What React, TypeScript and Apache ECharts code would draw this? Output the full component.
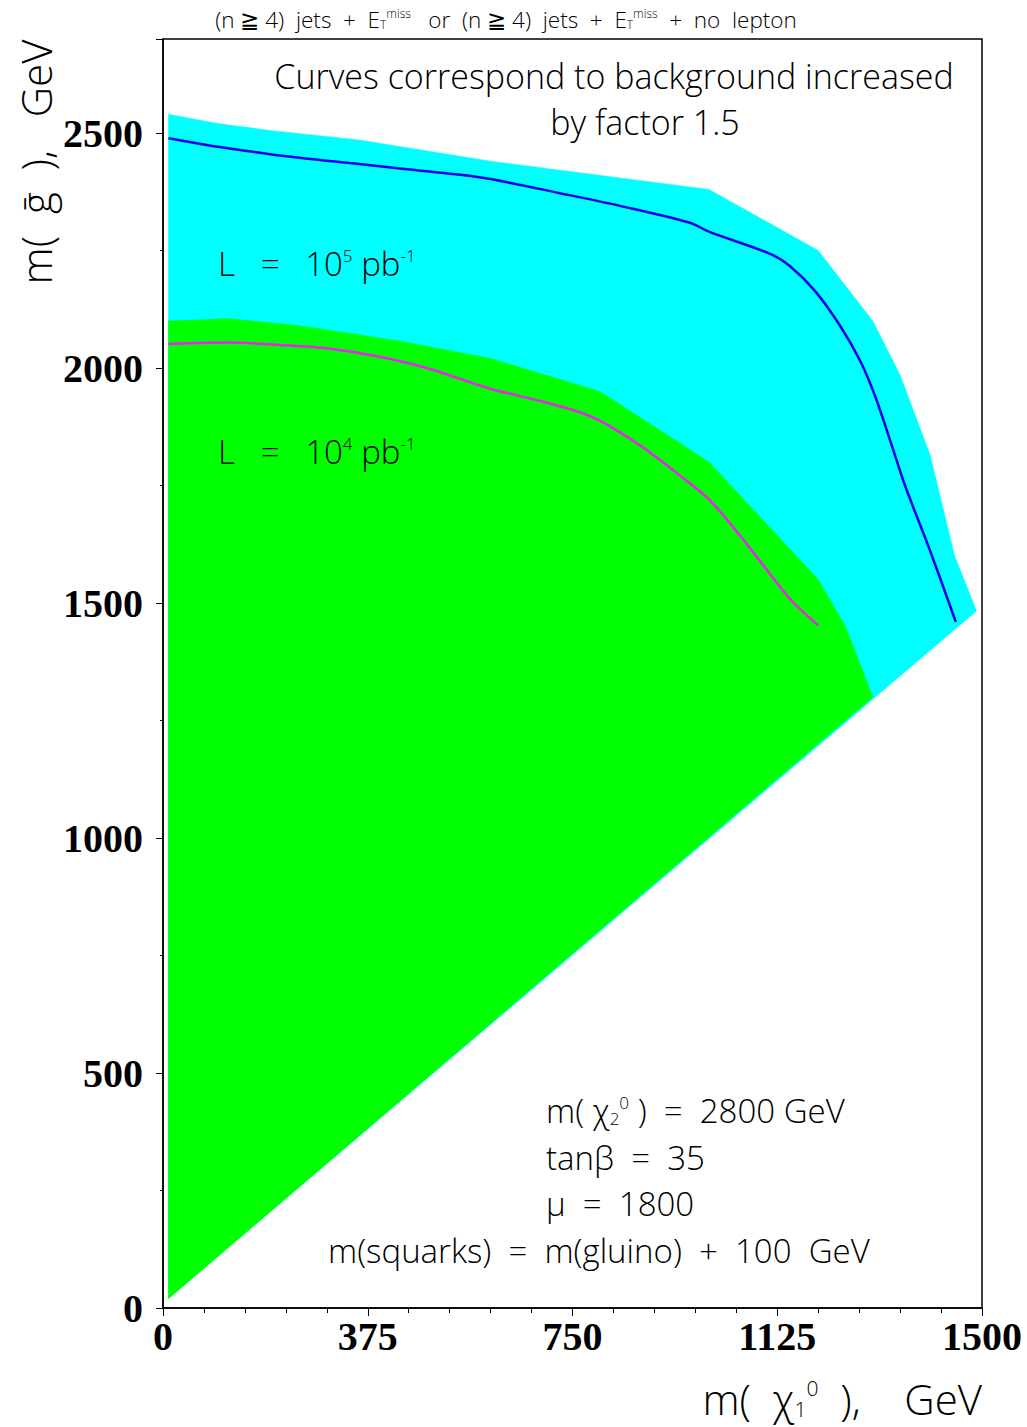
import React, { useEffect, useRef } from "react";
import * as echarts from "echarts";

// Region boundaries (m(chi1), m(gluino)) in GeV
const cyanX = [10, 100, 200, 360, 600, 1000, 1200, 1300, 1350, 1405, 1450, 1490, 10];
const cyanY = [2540, 2520, 2505, 2485, 2440, 2380, 2250, 2100, 1985, 1815, 1600, 1483, 20];
const greenX = [10, 120, 250, 430, 600, 800, 1000, 1100, 1200, 1250, 1300, 10];
const greenY = [2100, 2105, 2090, 2058, 2020, 1950, 1800, 1675, 1550, 1450, 1300, 20];

// Curves (background x 1.5)
const blueX = [10, 104, 196, 342, 544, 600, 727, 837, 965, 1002, 1112, 1148, 1194, 1240, 1277, 1304, 1332, 1359, 1405, 1452];
const blueY = [2489, 2470, 2455, 2436, 2411, 2402, 2372, 2345, 2309, 2289, 2243, 2217, 2164, 2090, 2015, 1941, 1845, 1750, 1611, 1460];
const magX = [10, 123, 214, 306, 397, 489, 599, 690, 755, 800, 874, 947, 1002, 1057, 1093, 1148, 1200];
const magY = [2051, 2054, 2049, 2041, 2024, 1998, 1956, 1930, 1909, 1888, 1835, 1771, 1718, 1643, 1590, 1509, 1452];

const xTicks = [0, 375, 750, 1125, 1500];
const yTicks = [0, 500, 1000, 1500, 2000, 2500];

const THIN = "'Open Sans', 'DejaVu Sans'";
const W = 300;

function polySeries(xs: number[], ys: number[], color: string, z: number) {
  return {
    type: "custom",
    z,
    silent: true,
    data: [[0, 0]],
    renderItem: (_params: any, api: any) => {
      const pts = xs.map((x, i) => api.coord([x, ys[i]]));
      return {
        type: "polygon",
        shape: { points: pts },
        style: { fill: color, stroke: color, lineWidth: 0.5 },
      };
    },
  };
}

function txt(x: number, y: number, text: string, size: number, align: string, rich?: any, extra?: any) {
  return {
    type: "text",
    x,
    y,
    z: 10,
    ...(extra || {}),
    style: {
      text,
      align,
      verticalAlign: "middle",
      fill: "#000",
      fontFamily: THIN,
      fontWeight: W,
      fontSize: size,
      ...(rich ? { rich } : {}),
    },
  };
}

export default function App() {
  const ref = useRef<HTMLDivElement>(null);
  useEffect(() => {
    document.body.style.margin = "0";
    const chart = echarts.init(ref.current!, undefined, { renderer: "svg" });
    const tickFont = { fontFamily: "Liberation Serif", fontWeight: "bold" as const, fontSize: 40, color: "#000" };
    const sup = (fs: number, raise: number) => ({ fontFamily: THIN, fontWeight: W, fontSize: fs, verticalAlign: "top", padding: [0, 0, raise, 0] });
    const sub = (fs: number, drop: number) => ({ fontFamily: THIN, fontWeight: W, fontSize: fs, verticalAlign: "bottom", padding: [drop, 0, 0, 0] });
    chart.setOption({
      animation: false,
      backgroundColor: "#fff",
      grid: { left: 163, top: 39, width: 819, height: 1269, show: true, borderColor: "#000", borderWidth: 1.5, backgroundColor: "transparent" },
      xAxis: {
        type: "value",
        min: 0,
        max: 1500,
        interval: 375,
        axisLine: { lineStyle: { color: "#000", width: 1.5 } },
        axisTick: { show: true, length: 8, lineStyle: { color: "#000", width: 1 } },
        minorTick: { show: true, splitNumber: 5, length: 5, lineStyle: { color: "#000", width: 1 } },
        splitLine: { show: false },
        axisLabel: { ...tickFont, margin: 8, formatter: (v: number) => (xTicks.includes(v) ? String(v) : "") },
      },
      yAxis: {
        type: "value",
        min: 0,
        max: 2700,
        interval: 500,
        axisLine: { lineStyle: { color: "#000", width: 1.5 } },
        axisTick: { show: true, length: 7, lineStyle: { color: "#000", width: 1 } },
        minorTick: { show: true, splitNumber: 2, length: 3, lineStyle: { color: "#000", width: 1 } },
        splitLine: { show: false },
        axisLabel: { ...tickFont, margin: 20, formatter: (v: number) => (yTicks.includes(v) ? String(v) : "") },
      },
      series: [
        polySeries(cyanX, cyanY, "#00ffff", 1),
        polySeries(greenX, greenY, "#00ff00", 2),
        {
          type: "line",
          z: 3,
          data: blueX.map((x, i) => [x, blueY[i]]),
          symbol: "none",
          smooth: 0.3,
          lineStyle: { color: "#0000ee", width: 2.5 },
        },
        {
          type: "line",
          z: 3,
          data: magX.map((x, i) => [x, magY[i]]),
          symbol: "none",
          smooth: 0.3,
          lineStyle: { color: "#ee22ee", width: 2.5 },
        },
      ],
      graphic: [
        txt(506, 19, "(n ≧ 4)  jets  +  E{s|T}{p|miss}   or  (n ≧ 4)  jets  +  E{s|T}{p|miss}  +  no  lepton", 22.5, "center", {
          s: sub(12, 10),
          p: sup(12, 9),
        }),
        txt(614, 76, "Curves correspond to background increased", 34, "center"),
        txt(645, 122, "by factor 1.5", 34, "center"),
        txt(218, 263, "L   =   10{p|5} pb{p|-1}", 33, "left", { p: sup(17, 15) }),
        txt(218, 451, "L   =   10{p|4} pb{p|-1}", 33, "left", { p: sup(17, 15) }),
        txt(546, 1110, "m( χ{s|2}{p|0} )  =  2800 GeV", 33, "left", { s: sub(17, 15), p: sup(17, 15) }),
        txt(546, 1157, "tanβ  =  35", 33, "left"),
        txt(546, 1203, "μ  =  1800", 33, "left"),
        txt(328, 1250, "m(squarks)  =  m(gluino)  +  100  GeV", 33, "left"),
        txt(982, 1398, "m(  χ{s|1}{p|0}  ),    GeV", 42, "right", { s: sub(21, 18), p: sup(21, 18) }),
        txt(35, 162, "m(  ḡ  ),   GeV", 42, "center", undefined, { rotation: Math.PI / 2 }),
      ],
    });
    return () => chart.dispose();
  }, []);
  return <div ref={ref} style={{ width: 1027, height: 1427 }} />;
}
